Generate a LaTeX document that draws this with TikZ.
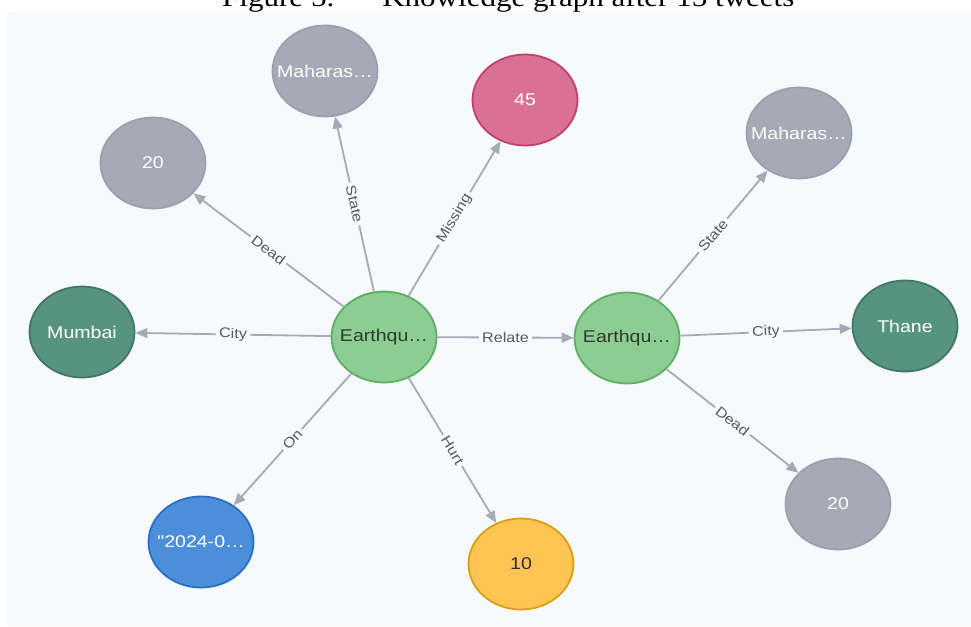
\documentclass[tikz,border=0pt]{standalone}
\usepackage{fontspec}
\setmainfont{Liberation Sans}
\newfontfamily\nf{Liberation Sans}[FakeStretch=1.15]
\newfontfamily\tf{Liberation Serif}[FakeStretch=1.15]
\usetikzlibrary{shapes.geometric,arrows.meta}
\definecolor{panel}{HTML}{F7FAFD}
\definecolor{edgec}{HTML}{A5ABB6}
\definecolor{lbl}{HTML}{555A60}
\definecolor{grnF}{HTML}{8DCC93}
\definecolor{grnD}{HTML}{5FAE63}
\definecolor{grnT}{HTML}{2A3D2C}
\definecolor{gryF}{HTML}{A5ABB6}
\definecolor{gryD}{HTML}{9AA1AC}
\definecolor{pnkF}{HTML}{DA7194}
\definecolor{pnkD}{HTML}{C2426E}
\definecolor{dgrF}{HTML}{569480}
\definecolor{dgrD}{HTML}{447666}
\definecolor{bluF}{HTML}{4C8EDA}
\definecolor{bluD}{HTML}{2870C2}
\definecolor{orgF}{HTML}{FFC454}
\definecolor{orgD}{HTML}{D7A013}
\definecolor{darkT}{HTML}{2A2C34}
\newcommand{\zt}[1]{\makebox[0pt]{#1}}
\begin{document}
\begin{tikzpicture}[x=1pt,y=-1pt,
  gnode/.style={ellipse, minimum width=105pt, minimum height=91pt, inner sep=0pt,
    line width=1.8pt, font=\nf\fontsize{17}{20}\selectfont},
  green/.style={gnode, fill=grnF, draw=grnD, text=grnT},
  gray/.style={gnode, fill=gryF, draw=gryD, text=white},
  pink/.style={gnode, fill=pnkF, draw=pnkD, text=white},
  dgreen/.style={gnode, fill=dgrF, draw=dgrD, text=white},
  blue/.style={gnode, fill=bluF, draw=bluD, text=white},
  orange/.style={gnode, fill=orgF, draw=orgD, text=darkT},
  rel/.style={draw=edgec, line width=1.8pt, -{Triangle[length=12pt,width=10pt]}},
  lab/.style={font=\nf\fontsize{14}{16}\selectfont, text=lbl, fill=panel,
    inner sep=3pt, sloped, midway}
]
\clip (0,0) rectangle (971,626);
\fill[white] (0,0) rectangle (971,626);
\fill[panel] (7,12) rectangle (971,626);
\node[anchor=base west, inner sep=0pt, font=\tf\fontsize{27}{30}\selectfont] (title) at (222,7)
  {Figure 5.\hspace{48pt}Knowledge graph after 15 tweets};

\node[green] (e1) at (384,337) {\zt{Earthqu\dots}};
\node[green] (e2) at (627,338) {\zt{Earthqu\dots}};
\node[gray] (d1) at (153,163) {\zt{20}};
\node[gray] (s1) at (325,71) {\zt{Maharas\dots}};
\node[pink] (m) at (525,100) {\zt{45}};
\node[dgreen] (mum) at (82,332) {\zt{Mumbai}};
\node[blue] (on) at (201,542) {\zt{"2024-0\dots}};
\node[orange] (h) at (521,564) {\zt{10}};
\node[gray] (s2) at (799,133) {\zt{Maharas\dots}};
\node[dgreen] (th) at (905,326) {\zt{Thane}};
\node[gray] (d2) at (838,504) {\zt{20}};

\draw[rel] (e1) -- node[lab]{Dead} (d1);
\draw[rel] (e1) -- node[lab]{State} (s1);
\draw[rel] (e1) -- node[lab]{Missing} (m);
\draw[rel] (e1) -- node[lab]{City} (mum);
\draw[rel] (e1) -- node[lab]{Relate} (e2);
\draw[rel] (e1) -- node[lab]{On} (on);
\draw[rel] (e1) -- node[lab]{Hurt} (h);
\draw[rel] (e2) -- node[lab]{State} (s2);
\draw[rel] (e2) -- node[lab]{City} (th);
\draw[rel] (e2) -- node[lab]{Dead} (d2);
\end{tikzpicture}
\end{document}
